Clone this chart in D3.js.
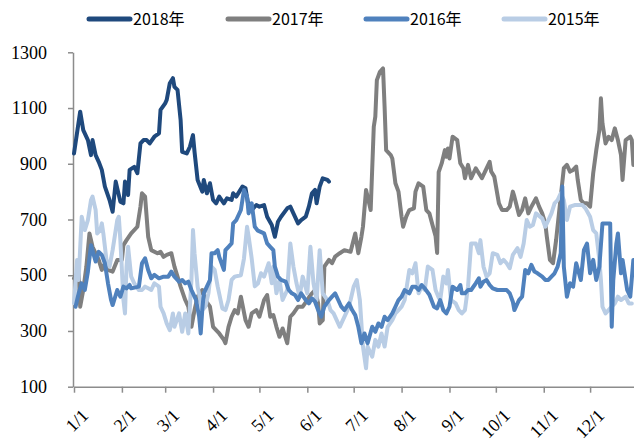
<!DOCTYPE html>
<html>
<head>
<meta charset="utf-8">
<script src="https://cdn.jsdelivr.net/npm/d3@7"></script>
<style>
  body { margin: 0; background: #fff; }
  svg { display: block; }
</style>
</head>
<body>
<div id="chart"></div>
<script>
// day of year (0 = 1/1) and value for each season
const years = ["2018年", "2017年", "2016年", "2015年"];
const colors = ["#1F497D", "#7F7F7F", "#4F81BD", "#B9CDE5"];
const yTicks = [100, 300, 500, 700, 900, 1100, 1300];

const days2018 = [0,4,6,9,11,12,14,16,18,20,23,25,27,30,32,33,35,36,39,41,43,45,47,49,52,55,56,59,60,62,64,65,67,69,70,73,75,77,78,80,83,84,86,88,90,92,94,97,99,102,103,105,109,111,113,115,118,120,123,125,128,130,132,134,138,140,142,145,147,150,152,154,156,157,159,161,164,165];
const vals2018 = [937,1087,1021,985,931,985,931,907,878,818,770,728,836,764,758,836,788,878,889,866,973,985,985,973,997,1009,1093,1117,1129,1189,1207,1176,1165,1057,943,937,961,1003,943,842,800,842,794,830,770,758,782,758,776,770,794,782,818,812,746,734,752,746,752,710,680,638,692,710,740,746,722,686,698,710,746,794,806,758,818,848,842,836];

const days2017 = [0,3,4,6,8,10,12,16,18,20,22,25,28,31,32,34,37,41,43,44,46,48,50,54,56,58,60,63,65,69,72,74,76,78,80,83,85,88,90,92,94,97,98,100,102,104,106,108,111,113,115,118,120,123,125,127,129,131,133,135,138,140,142,145,148,151,153,156,158,159,161,162,165,167,169,172,175,179,182,184,186,187,189,190,192,194,195,196,198,200,201,202,205,206,208,210,212,213,215,217,220,221,223,226,228,230,232,234,235,236,238,240,241,242,243,245,248,250,252,253,255,257,260,262,264,266,269,270,272,275,277,280,282,284,285,288,290,292,294,296,299,301,303,305,306,308,310,312,315,317,319,321,323,325,326,328,330,332,334,336,338,340,341,342,344,346,348,350,352,354,355,357,360,361,362];
const vals2017 = [489,513,387,447,531,650,602,555,519,543,519,513,555,555,608,626,650,674,746,794,782,638,590,579,584,566,573,579,531,459,411,387,315,375,423,447,411,387,315,303,291,268,256,315,351,375,363,423,339,315,363,375,351,411,429,351,357,315,279,309,256,351,363,387,387,411,429,447,399,327,339,531,555,543,567,579,590,584,650,579,638,674,806,782,734,1033,1069,1200,1230,1242,1105,949,931,919,830,800,710,674,710,734,740,800,830,818,734,722,680,640,580,870,902,949,925,955,919,997,985,902,884,848,896,848,884,866,848,872,907,872,854,758,734,734,746,800,782,716,734,776,722,746,776,746,722,686,638,555,543,626,782,884,896,872,878,890,842,770,758,758,746,866,949,1021,1135,1045,973,997,985,1027,985,931,842,985,997,985,896];

const days2016 = [1,3,5,7,9,11,14,16,18,20,22,24,25,28,30,32,34,36,37,42,44,46,48,50,52,55,58,61,63,65,68,70,72,74,76,78,79,81,82,83,84,86,88,89,91,93,94,97,98,100,102,103,105,108,110,111,112,113,115,117,119,123,125,127,129,130,132,134,137,139,141,143,145,147,150,152,154,156,158,160,162,165,167,169,171,173,175,178,180,182,184,186,188,190,193,195,197,199,201,203,206,208,210,212,214,217,219,221,223,225,227,230,233,235,237,239,241,243,245,248,250,251,253,255,257,260,262,263,265,267,269,271,274,277,280,282,284,285,288,290,292,294,296,298,300,303,305,307,309,311,313,315,316,317,319,321,323,325,328,330,332,334,336,338,340,342,346,347,348,349,351,352,354,355,358,360,362];
const vals2016 = [387,435,471,447,513,608,549,584,573,543,471,411,393,447,423,459,453,465,453,459,543,561,519,489,501,489,495,495,513,495,477,483,471,477,447,423,411,351,291,375,435,459,483,579,579,590,566,519,590,602,614,686,698,734,806,794,782,722,758,674,660,650,614,602,590,531,495,483,477,447,435,429,411,435,411,399,417,405,375,351,387,411,423,435,411,387,375,399,375,357,315,256,291,256,315,297,327,315,351,339,363,387,411,423,447,435,459,459,447,465,453,430,387,381,411,375,363,387,459,447,465,435,435,447,447,471,489,459,477,483,465,453,447,447,447,435,405,375,411,423,519,507,537,513,507,495,483,483,495,507,531,579,818,531,423,471,459,543,483,590,614,507,555,483,531,686,686,686,315,483,614,650,507,555,447,423,555];

const days2015 = [0,2,3,5,7,9,11,12,14,15,17,18,19,21,23,25,28,29,30,32,33,34,35,37,39,42,44,46,48,50,52,55,56,58,60,62,64,65,68,70,72,74,76,77,78,80,83,85,87,89,91,93,96,98,100,102,104,108,110,112,113,115,117,119,121,123,126,128,129,131,133,135,138,140,142,144,146,148,151,153,155,157,159,161,164,166,168,170,172,174,177,179,181,183,185,187,189,190,193,195,197,199,201,203,206,208,210,212,214,217,219,221,223,225,227,229,232,234,236,237,239,241,242,244,247,249,251,253,255,257,260,262,263,265,267,269,271,274,276,278,280,282,284,287,289,291,293,295,297,299,303,305,307,309,311,313,315,317,319,321,324,329,331,334,336,338,340,341,342,344,348,350,352,354,357,359,361];
const vals2015 = [399,555,483,710,662,698,770,782,734,650,662,686,650,555,531,590,698,710,626,411,363,531,602,495,471,447,447,459,453,447,471,459,387,363,327,303,363,315,363,297,363,291,483,662,579,459,375,387,435,531,519,459,381,375,411,483,495,500,560,674,640,560,460,470,507,495,543,471,531,435,483,411,447,614,531,471,423,495,435,602,471,411,590,435,411,375,363,339,315,339,375,411,459,483,411,244,166,244,208,268,244,291,244,315,339,363,375,387,411,519,507,543,435,459,447,531,519,447,420,411,495,471,519,411,399,375,363,375,459,614,614,579,626,531,495,507,579,573,543,555,543,525,573,597,566,614,698,674,680,722,704,674,698,722,758,770,794,770,698,746,752,752,740,710,662,650,555,483,387,363,387,399,423,411,423,399,399];

const seriesDays = [days2018, days2017, days2016, days2015];
const seriesVals = [vals2018, vals2017, vals2016, vals2015];

const width = 634, height = 446;
const start = new Date(2018, 0, 1);

const x = d3.scaleTime()
  .domain([start, new Date(2019, 0, 1)])
  .range([74, 638]);

const y = d3.scaleLinear()
  .domain([100, 1300])
  .range([386.7, 52.3]);

const svg = d3.select("#chart").append("svg")
  .attr("width", width)
  .attr("height", height);

// y axis
const yAxis = svg.append("g")
  .attr("transform", "translate(73,0)")
  .call(d3.axisLeft(y).tickValues(yTicks).tickFormat(d3.format("d")).tickSize(5).tickSizeOuter(0).tickPadding(21));
yAxis.select(".domain").attr("stroke", "#8c8c8c").attr("stroke-width", 1.5);
yAxis.selectAll(".tick line").attr("stroke", "#8c8c8c").attr("stroke-width", 1.5);
yAxis.selectAll(".tick text")
  .attr("font-family", "'Liberation Serif', 'Times New Roman', serif")
  .attr("font-size", 18)
  .attr("fill", "#000");

// x axis, one tick per month of the season
const months = d3.timeMonth.range(start, new Date(2018, 11, 2));
const xAxis = svg.append("g")
  .attr("transform", "translate(0," + y(100) + ")")
  .call(d3.axisBottom(x).tickValues(months).tickFormat(d3.timeFormat("%-m/%-d")).tickSize(6).tickSizeOuter(0));
xAxis.select(".domain").attr("stroke", "#8c8c8c").attr("stroke-width", 1.5);
xAxis.selectAll(".tick line").attr("stroke", "#8c8c8c").attr("stroke-width", 1.5);
xAxis.selectAll(".tick text")
  .attr("font-family", "'Liberation Serif', 'Times New Roman', serif")
  .attr("font-size", 18)
  .attr("fill", "#000")
  .attr("text-anchor", "end")
  .attr("dy", "0.35em")
  .attr("transform", "translate(4,19) rotate(-45)");

const line = d3.line()
  .x(d => x(d3.timeDay.offset(start, d[0])))
  .y(d => y(d[1]));

// draw order: 2018, 2017, 2015, 2016 on top
const order = [0, 1, 3, 2];
order.forEach(i => {
  const pts = seriesDays[i].map((d, j) => [d, seriesVals[i][j]]);
  svg.append("path")
    .datum(pts)
    .attr("fill", "none")
    .attr("stroke", colors[i])
    .attr("stroke-width", 4)
    .attr("stroke-linejoin", "round")
    .attr("stroke-linecap", "round")
    .attr("d", line);
});

// legend
const legX = [89, 228, 366, 504];
const legend = svg.append("g");
years.forEach((name, i) => {
  legend.append("line")
    .attr("x1", legX[i]).attr("x2", legX[i] + 41)
    .attr("y1", 19).attr("y2", 19)
    .attr("stroke", colors[i])
    .attr("stroke-width", 5)
    .attr("stroke-linecap", "round");
  legend.append("text")
    .attr("x", legX[i] + 44)
    .attr("y", 19)
    .attr("dy", "0.35em")
    .attr("font-family", "'Noto Sans CJK SC', 'Noto Sans', sans-serif")
    .attr("font-size", 16)
    .attr("fill", "#000")
    .text(name);
});
</script>
</body>
</html>
